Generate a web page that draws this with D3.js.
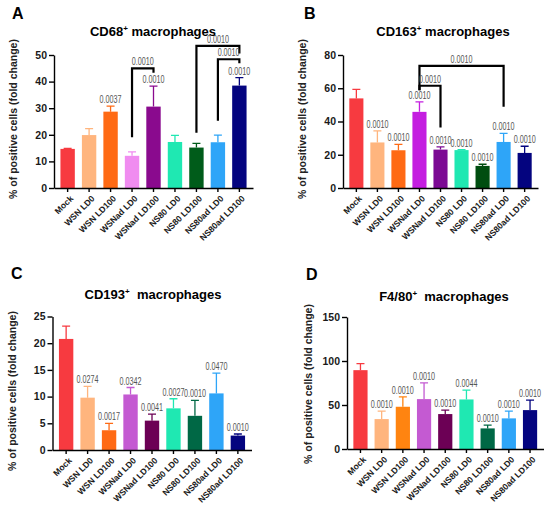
<!DOCTYPE html>
<html>
<head>
<meta charset="utf-8">
<script src="https://cdn.jsdelivr.net/npm/d3@7"></script>
<style>
  body { margin: 0; background: #fff; }
  svg { display: block; font-family: Arial, 'Liberation Sans', sans-serif; }
  .ejes path, .ejes line { stroke: #000; stroke-width: 1.4; }
  .ejes text { font-family: Arial, 'Liberation Sans', sans-serif; font-weight: bold; fill: #1a1a1a; }
  .pval { font-family: Arial, 'Liberation Sans', sans-serif; font-size: 10px; }
</style>
</head>
<body>
<div id="graf"></div>
<script>
// categories shared by all four panels
const categories = ['Mock', 'WSN LD0', 'WSN LD100', 'WSNad LD0', 'WSNad LD100',
  'NS80 LD0', 'NS80 LD100', 'NS80ad LD0', 'NS80ad LD100']

// A - CD68
const cd68Means = [14.7, 19.9, 28.7, 12.1, 30.6, 17.3, 15.2, 17.2, 38.5]
const cd68Errors = [0.2, 2.4, 2.1, 1.5, 7.7, 2.5, 1.6, 2.7, 3.0]
const cd68P = ['', '', '0.0037', '', '0.0010', '', '', '', '0.0010']
const cd68Ticks = [0, 10, 20, 30, 40, 50]
const cd68Brackets = [
  { a: 3, b: 4, from: 19.1, top: 45, to: 43.3, p: '0.0010' },
  { a: 6, b: 8, from: 20.8, top: 53.4, to: 50.6, p: '0.0010' },
  { a: 7, b: 8, from: 25.3, top: 48.4, to: 46.9, p: '0.0010' },
]

// B - CD163
const cd163Means = [53.9, 27.4, 22.7, 45.8, 23.1, 22.8, 13.3, 27.7, 21.1]
const cd163Errors = [5.4, 7.0, 3.6, 6.0, 1.6, 0.3, 1.0, 5.1, 4.0]
const cd163P = ['', '0.0010', '0.0010', '0.0010', '0.0010', '0.0010', '0.0010', '0.0010', '0.0010']
const cd163Ticks = [0, 20, 40, 60, 80]
const cd163Brackets = [
  { a: 3, b: 7, from: 58.8, top: 73.4, to: 48.8, p: '0.0010' },
  { a: 3, b: 4, from: 58.8, top: 61.5, to: 36.4, p: '0.0010' },
]

// C - CD193
const cd193Means = [20.8, 9.8, 3.7, 10.4, 5.5, 7.8, 6.4, 10.6, 2.7]
const cd193Errors = [2.4, 2.1, 1.3, 1.3, 1.2, 1.8, 2.9, 3.8, 0.3]
const cd193P = ['', '0.0274', '0.0017', '0.0342', '0.0041', '0.0027', '0.0010', '0.0470', '0.0010']
const cd193Ticks = [0, 5, 10, 15, 20, 25]

// D - F4/80
const f480Means = [89.6, 34, 48, 56.7, 39.7, 56.3, 23.4, 34.8, 44.2]
const f480Errors = [7.4, 9, 11.3, 18.5, 4.5, 10.6, 3.8, 8.2, 11.3]
const f480P = ['', '0.0010', '0.0010', '0.0010', '0.0010', '0.0044', '0.0010', '0.0010', '0.0010']
const f480Ticks = [0, 50, 100, 150]

const coloresA = ['#f73a40', '#ffb57e', '#ff6a14', '#f08cf0', '#8a0a8e', '#1fe8b2', '#005c1a', '#2ea5f8', '#04047f']
const coloresB = ['#f73a40', '#ffb57e', '#ff6a14', '#c41ee0', '#7c0a94', '#1fe8b2', '#004d10', '#2ea5f8', '#04047f']
const coloresC = ['#f73a40', '#ffb57e', '#ff6a14', '#c45ad2', '#6c0055', '#1fe8b2', '#006845', '#2ea5f8', '#04047f']
const coloresD = ['#f73a40', '#ffb57e', '#ff8410', '#c45ad2', '#6c0055', '#1fe8b2', '#006845', '#2ea5f8', '#04047f']

const svg = d3.select('#graf')
  .append('svg')
  .attr('width', 550)
  .attr('height', 509)

const paneles = [
  { letra: 'A', titulo: 'CD68', resto: ' macrophages', means: cd68Means, errs: cd68Errors, p: cd68P,
    ticks: cd68Ticks, brackets: cd68Brackets, colores: coloresA,
    x0: 54, x1: 253, top: 55, base: 188, letraX: 12, letraY: 19, titX: 153, titY: 36, labX: 13, labY: 119 },
  { letra: 'B', titulo: 'CD163', resto: ' macrophages', means: cd163Means, errs: cd163Errors, p: cd163P,
    ticks: cd163Ticks, brackets: cd163Brackets, colores: coloresB,
    x0: 343, x1: 538, top: 55, base: 188, letraX: 304, letraY: 19, titX: 443, titY: 36, labX: 302, labY: 119 },
  { letra: 'C', titulo: 'CD193', resto: '\u00a0 macrophages', means: cd193Means, errs: cd193Errors, p: cd193P,
    ticks: cd193Ticks, brackets: [], colores: coloresC,
    x0: 52.5, x1: 251.5, top: 316.5, base: 450, letraX: 11, letraY: 279, titX: 153, titY: 299, labX: 12, labY: 391 },
  { letra: 'D', titulo: 'F4/80', resto: '\u00a0 macrophages', means: f480Means, errs: f480Errors, p: f480P,
    ticks: f480Ticks, brackets: [], colores: coloresD,
    x0: 347, x1: 543.5, top: 317, base: 449, letraX: 306, letraY: 280, titX: 444, titY: 301, labX: 308, labY: 384 },
]

paneles.forEach(dibujar)

function dibujar(cfg) {
  const g = svg.append('g')

  const x = d3.scaleBand()
    .domain(categories)
    .range([cfg.x0, cfg.x1])
    .paddingInner(0.33)
    .paddingOuter(0.3)

  const y = d3.scaleLinear()
    .domain([0, d3.max(cfg.ticks)])
    .range([cfg.base, cfg.top])

  const datos = categories.map((c, i) => ({ c, m: cfg.means[i], e: cfg.errs[i], p: cfg.p[i], color: cfg.colores[i] }))

  // error bars (upper only, behind bars)
  const cap = 4
  g.selectAll('.err').data(datos).enter()
    .append('path')
    .attr('class', 'err')
    .attr('fill', 'none')
    .attr('stroke', d => d.color)
    .attr('stroke-width', 1.3)
    .attr('d', d => {
      const cx = x(d.c) + x.bandwidth() / 2
      return `M${cx},${y(d.m)}V${y(d.m + d.e)}M${cx - cap},${y(d.m + d.e)}H${cx + cap}`
    })

  g.selectAll('rect').data(datos).enter()
    .append('rect')
    .attr('x', d => x(d.c))
    .attr('y', d => y(d.m))
    .attr('width', x.bandwidth())
    .attr('height', d => cfg.base - y(d.m))
    .attr('fill', d => d.color)

  // p values above bars (narrow lettering like the original)
  g.selectAll('.pval').data(datos.filter(d => d.p)).enter()
    .append('text')
    .attr('class', 'pval')
    .attr('fill', '#555')
    .attr('x', d => x(d.c) + x.bandwidth() / 2)
    .attr('y', d => y(d.m + d.e) - 3)
    .attr('text-anchor', 'middle')
    .attr('textLength', 22)
    .attr('lengthAdjust', 'spacingAndGlyphs')
    .text(d => d.p)

  // comparison brackets
  cfg.brackets.forEach(b => {
    const xa = x(categories[b.a]) + x.bandwidth() / 2
    const xb = x(categories[b.b]) + x.bandwidth() / 2
    g.append('path')
      .attr('fill', 'none')
      .attr('stroke', '#000')
      .attr('stroke-width', 2.2)
      .attr('d', `M${xa},${y(b.from)}V${y(b.top)}H${xb}V${y(b.to)}`)
    g.append('text')
      .attr('class', 'pval')
      .attr('fill', '#555')
      .attr('x', (xa + xb) / 2)
      .attr('y', y(b.top) - 3)
      .attr('text-anchor', 'middle')
      .attr('textLength', 22)
      .attr('lengthAdjust', 'spacingAndGlyphs')
      .text(b.p)
  })

  // axes
  g.append('g')
    .attr('class', 'ejes')
    .attr('transform', `translate(${cfg.x0}, 0)`)
    .call(d3.axisLeft(y).tickValues(cfg.ticks).tickSize(5).tickSizeOuter(0).tickPadding(2))
    .selectAll('text')
    .attr('font-size', 10.5)

  const xAxis = g.append('g')
    .attr('class', 'ejes')
    .attr('transform', `translate(0, ${cfg.base})`)
    .call(d3.axisBottom(x).tickSize(4).tickSizeOuter(0))

  xAxis.selectAll('text')
    .attr('font-size', 8.6)
    .attr('text-anchor', 'end')
    .attr('dy', '0.35em')
    .attr('y', 0)
    .attr('x', 0)
    .attr('transform', 'translate(4, 9) rotate(-45)')

  // panel letter, title, y label
  g.append('text')
    .attr('x', cfg.letraX)
    .attr('y', cfg.letraY)
    .attr('font-size', 16)
    .attr('font-weight', 'bold')
    .text(cfg.letra)

  const tit = g.append('text')
    .attr('x', cfg.titX)
    .attr('y', cfg.titY)
    .attr('text-anchor', 'middle')
    .attr('font-size', 13)
    .attr('font-weight', 'bold')
  tit.append('tspan').text(cfg.titulo)
  tit.append('tspan').attr('font-size', 8).attr('dy', -5).text('+')
  tit.append('tspan').attr('dy', 5).text(cfg.resto)

  g.append('text')
    .attr('transform', `translate(${cfg.labX}, ${cfg.labY}) rotate(-90)`)
    .attr('text-anchor', 'middle')
    .attr('dy', '0.35em')
    .attr('font-size', 10.5)
    .attr('font-weight', 'bold')
    .attr('fill', '#222')
    .text('% of positive cells (fold change)')
}
</script>
</body>
</html>
